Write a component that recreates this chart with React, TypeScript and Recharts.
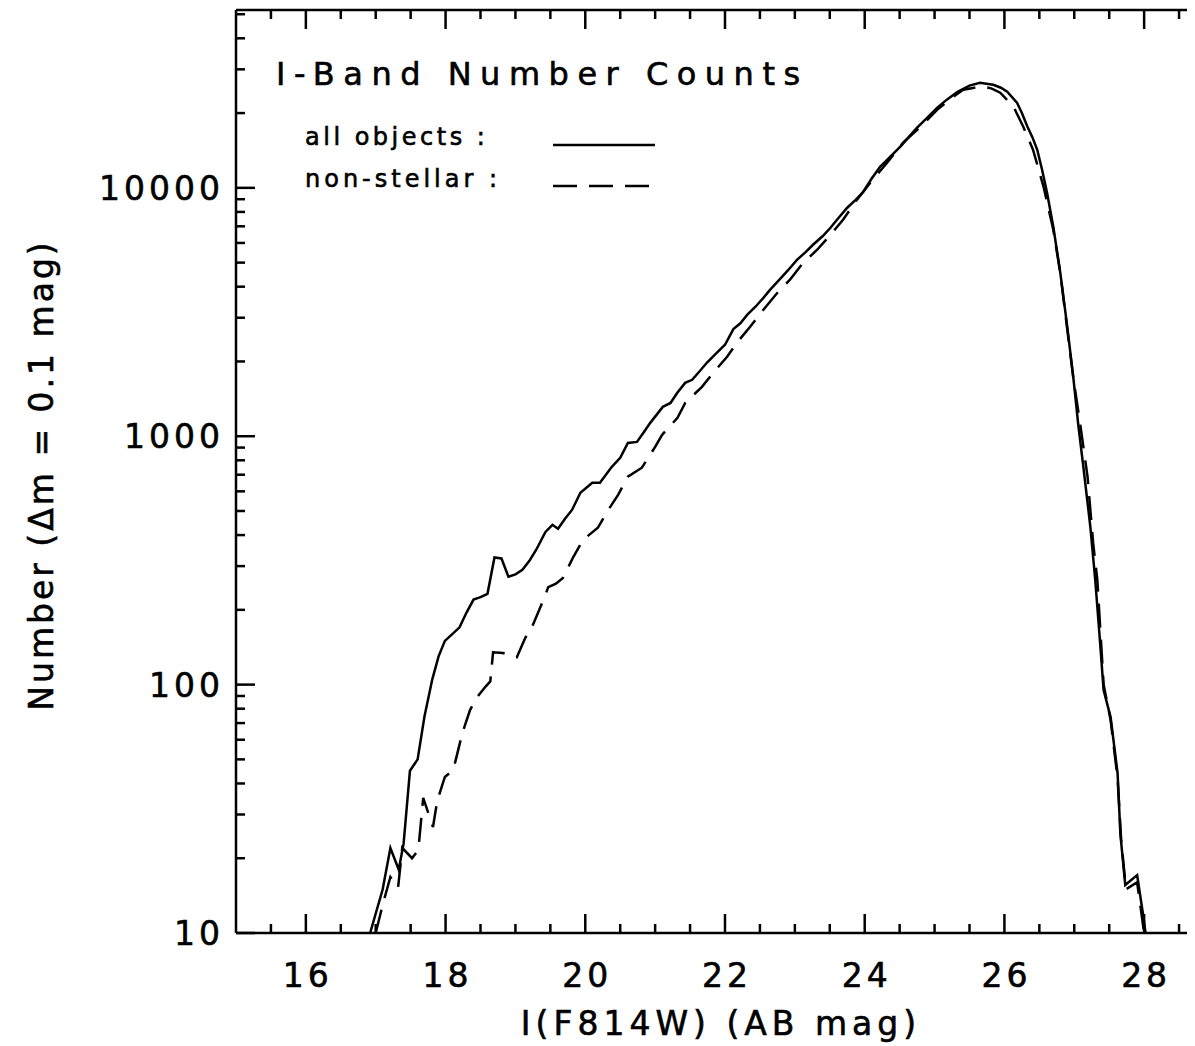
import React from "react"
import { LineChart, Line, XAxis, YAxis } from "recharts"

// I-band number counts, 0.1 mag bins
const allMag = [
  16.92, 17.1, 17.21, 17.33, 17.4, 17.49, 17.6, 17.7, 17.81, 17.9, 17.99, 18.1, 18.2, 18.3, 18.4, 18.5,
  18.6, 18.7, 18.8, 18.9, 19.0, 19.1, 19.2, 19.3, 19.43, 19.53, 19.61, 19.71, 19.81, 19.93, 20.1, 20.21,
  20.38, 20.5, 20.61, 20.74, 20.83, 20.93, 21.11, 21.22, 21.32, 21.43, 21.53, 21.64, 21.74, 21.87, 22.0,
  22.12, 22.22, 22.32, 22.44, 22.55, 22.65, 22.75, 22.9, 23.03, 23.15, 23.26, 23.4, 23.51, 23.63, 23.75,
  23.87, 23.98, 24.1, 24.22, 24.36, 24.51, 24.63, 24.75, 24.9, 25.04, 25.18, 25.33, 25.5, 25.65, 25.84,
  25.95, 26.04, 26.18, 26.25, 26.33, 26.4, 26.47, 26.54, 26.61, 26.7, 26.8, 26.9, 26.99, 27.06, 27.13,
  27.23, 27.3, 27.36, 27.42, 27.52, 27.62, 27.66, 27.73, 27.9, 27.99, 28.02,
]
const allCount = [
  10, 15, 22, 18, 23, 45, 50, 75, 105, 130, 150, 160, 170, 195, 220, 225,
  232, 325, 322, 272, 278, 290, 315, 350, 412, 440, 424, 465, 505, 592, 649, 649,
  753, 819, 940, 949, 1030, 1132, 1313, 1361, 1500, 1640, 1687, 1830, 1976, 2150, 2335,
  2700, 2850, 3085, 3330, 3608, 3900, 4186, 4650, 5131, 5500, 5900, 6400, 6905, 7600, 8317,
  8950, 9642, 10900, 12160, 13300, 14650, 16000, 17470, 19200, 21030, 22700, 24380, 25800, 26490, 26010,
  25300, 24380, 22020, 20000, 17630, 16000, 14230, 11800, 9550, 6970, 4545, 2754, 1687, 1092, 753,
  432, 264, 160, 95, 74, 44, 25, 15.6, 17.1, 11.6, 10,
]

const nonStellarMag = [
  17.0, 17.1, 17.21, 17.32, 17.38, 17.52, 17.61, 17.68, 17.82, 17.88, 17.99, 18.11, 18.24, 18.35, 18.45,
  18.57, 18.64, 18.68, 18.82, 19.02, 19.14, 19.25, 19.4, 19.47, 19.58, 19.68, 19.83, 19.97, 20.18, 20.33,
  20.47, 20.61, 20.81, 21.0, 21.1, 21.32, 21.43, 21.67, 21.83, 22.03, 22.17, 22.36, 22.55, 22.75, 22.93,
  23.12, 23.32, 23.51, 23.69, 23.89, 24.08, 24.32, 24.55, 24.8, 25.04, 25.27, 25.41, 25.57, 25.7, 25.82,
  25.94, 26.13, 26.27, 26.41, 26.56, 26.7, 26.8, 26.9, 26.99, 27.09, 27.19, 27.27, 27.33, 27.42, 27.52,
  27.62, 27.67, 27.74, 27.9, 28.0,
]
const nonStellarCount = [
  10, 13, 16.8, 15.2, 22, 20, 21.6, 35, 26.7, 34, 42.5, 45.3, 63.8, 79, 89,
  98, 103, 135, 134, 129, 154, 174, 219, 247, 255, 269, 327, 383, 428, 505,
  581, 687, 747, 906, 1013, 1186, 1362, 1580, 1800, 2088, 2378, 2760, 3230, 3780, 4266,
  4993, 5634, 6475, 7441, 8963, 10490, 12620, 15200, 17630, 20650, 23280, 24830, 25300, 25530, 25100,
  24150, 21230, 17630, 14230, 10100, 6776, 4545, 2680, 1687, 1092, 687, 372, 264, 100, 72,
  42, 24, 15, 16, 10,
]

const xMajorTicks = [16, 18, 20, 22, 24, 26, 28]
const xTicks = [
  15.5, 16, 16.5, 17, 17.5, 18, 18.5, 19, 19.5, 20, 20.5, 21, 21.5, 22, 22.5, 23, 23.5, 24, 24.5, 25,
  25.5, 26, 26.5, 27, 27.5, 28, 28.5,
]
const yMajorTicks = [10, 100, 1000, 10000]
const yTicks = [
  10, 20, 30, 40, 50, 60, 70, 80, 90, 100, 200, 300, 400, 500, 600, 700, 800, 900,
  1000, 2000, 3000, 4000, 5000, 6000, 7000, 8000, 9000, 10000, 20000, 30000, 40000, 50000,
]

const allData = allMag.map((m, i) => ({ m, n: allCount[i] }))
const nonStellarData = nonStellarMag.map((m, i) => ({ m, n: nonStellarCount[i] }))

const FONT = "DejaVu Sans"
const MAJOR = 19
const MINOR = 9
const AXW = 2.5

// slight outline to mimic the heavier vector font of the original
const ink = { fill: "#000", stroke: "#000", strokeWidth: 0.6, fontFamily: FONT }
const tickText = { ...ink, fontSize: 33, letterSpacing: 4 }

function LeftTick({ x, y, payload }: any) {
  const major = yMajorTicks.includes(payload.value)
  return (
    <g>
      <line x1={x} x2={x + (major ? MAJOR : MINOR)} y1={y} y2={y} stroke="#000" strokeWidth={AXW} />
      {major && (
        <text x={x - 12} y={y + 12} textAnchor="end" {...tickText}>
          {payload.value}
        </text>
      )}
    </g>
  )
}

function RightTick({ x, y, payload }: any) {
  const major = yMajorTicks.includes(payload.value)
  return <line x1={x} x2={x - (major ? MAJOR : MINOR)} y1={y} y2={y} stroke="#000" strokeWidth={AXW} />
}

function BottomTick({ x, y, payload }: any) {
  const major = xMajorTicks.includes(payload.value)
  return (
    <g>
      <line x1={x} x2={x} y1={y} y2={y - (major ? MAJOR : MINOR)} stroke="#000" strokeWidth={AXW} />
      {major && (
        <text x={x + 2} y={y + 54} textAnchor="middle" {...tickText}>
          {payload.value}
        </text>
      )}
    </g>
  )
}

function TopTick({ x, y, payload }: any) {
  const major = xMajorTicks.includes(payload.value)
  return <line x1={x} x2={x} y1={y} y2={y + (major ? MAJOR : MINOR)} stroke="#000" strokeWidth={AXW} />
}

export default function App() {
  const W = 1231
  const H = 1038
  const axisLine = { stroke: "#000", strokeWidth: AXW }
  return (
    <div style={{ width: 1187, height: H, overflow: "hidden", position: "relative", background: "#fff" }}>
      <LineChart width={W} height={H} margin={{ top: 1, right: 31, bottom: 53, left: 78 }}>
        <XAxis
          xAxisId="b"
          dataKey="m"
          type="number"
          domain={[15, 28.9]}
          allowDataOverflow
          ticks={xTicks}
          interval={0}
          tick={<BottomTick />}
          tickLine={false}
          tickSize={0}
          tickMargin={0}
          axisLine={axisLine}
          height={60}
        />
        <XAxis
          xAxisId="t"
          orientation="top"
          dataKey="m"
          type="number"
          domain={[15, 28.9]}
          allowDataOverflow
          ticks={xTicks}
          interval={0}
          tick={<TopTick />}
          tickLine={false}
          tickSize={0}
          tickMargin={0}
          axisLine={axisLine}
          height={1}
        />
        <YAxis
          yAxisId="l"
          type="number"
          scale="log"
          domain={[10, 52000]}
          allowDataOverflow
          ticks={yTicks}
          interval={0}
          tick={<LeftTick />}
          tickLine={false}
          tickSize={0}
          tickMargin={0}
          axisLine={axisLine}
          width={150}
        />
        <YAxis
          yAxisId="r"
          orientation="right"
          type="number"
          scale="log"
          domain={[10, 52000]}
          allowDataOverflow
          ticks={yTicks}
          interval={0}
          tick={<RightTick />}
          tickLine={false}
          tickSize={0}
          tickMargin={0}
          axisLine={axisLine}
          width={1}
        />
        <Line
          xAxisId="b"
          yAxisId="l"
          data={allData}
          dataKey="n"
          type="linear"
          stroke="#000"
          strokeWidth={2.5}
          dot={false}
          isAnimationActive={false}
        />
        <Line
          xAxisId="b"
          yAxisId="l"
          data={nonStellarData}
          dataKey="n"
          type="linear"
          stroke="#000"
          strokeWidth={2.5}
          strokeDasharray="24 12"
          dot={false}
          isAnimationActive={false}
        />
      </LineChart>
      <svg width={W} height={H} style={{ position: "absolute", left: 0, top: 0, pointerEvents: "none" }}>
        <text x={268} y={77} fontSize={32} letterSpacing={8.5} {...ink}>
          I-Band Number Counts
        </text>
        <text x={297} y={137} fontSize={24} letterSpacing={3.5} {...ink}>
          all objects :
        </text>
        <line x1={545} x2={647} y1={137} y2={137} stroke="#000" strokeWidth={2.5} />
        <text x={297} y={179} fontSize={24} letterSpacing={4} {...ink}>
          non-stellar :
        </text>
        <line x1={545} x2={647} y1={178} y2={178} stroke="#000" strokeWidth={2.5} strokeDasharray="24 12" />
        <text x={713} y={1027} textAnchor="middle" fontSize={33} letterSpacing={5} {...ink}>
          I(F814W) (AB mag)
        </text>
        <text
          x={45}
          y={467}
          transform="rotate(-90 45 467)"
          textAnchor="middle"
          fontSize={33}
          letterSpacing={3}
          {...ink}
        >
          Number (Δm = 0.1 mag)
        </text>
      </svg>
    </div>
  )
}
